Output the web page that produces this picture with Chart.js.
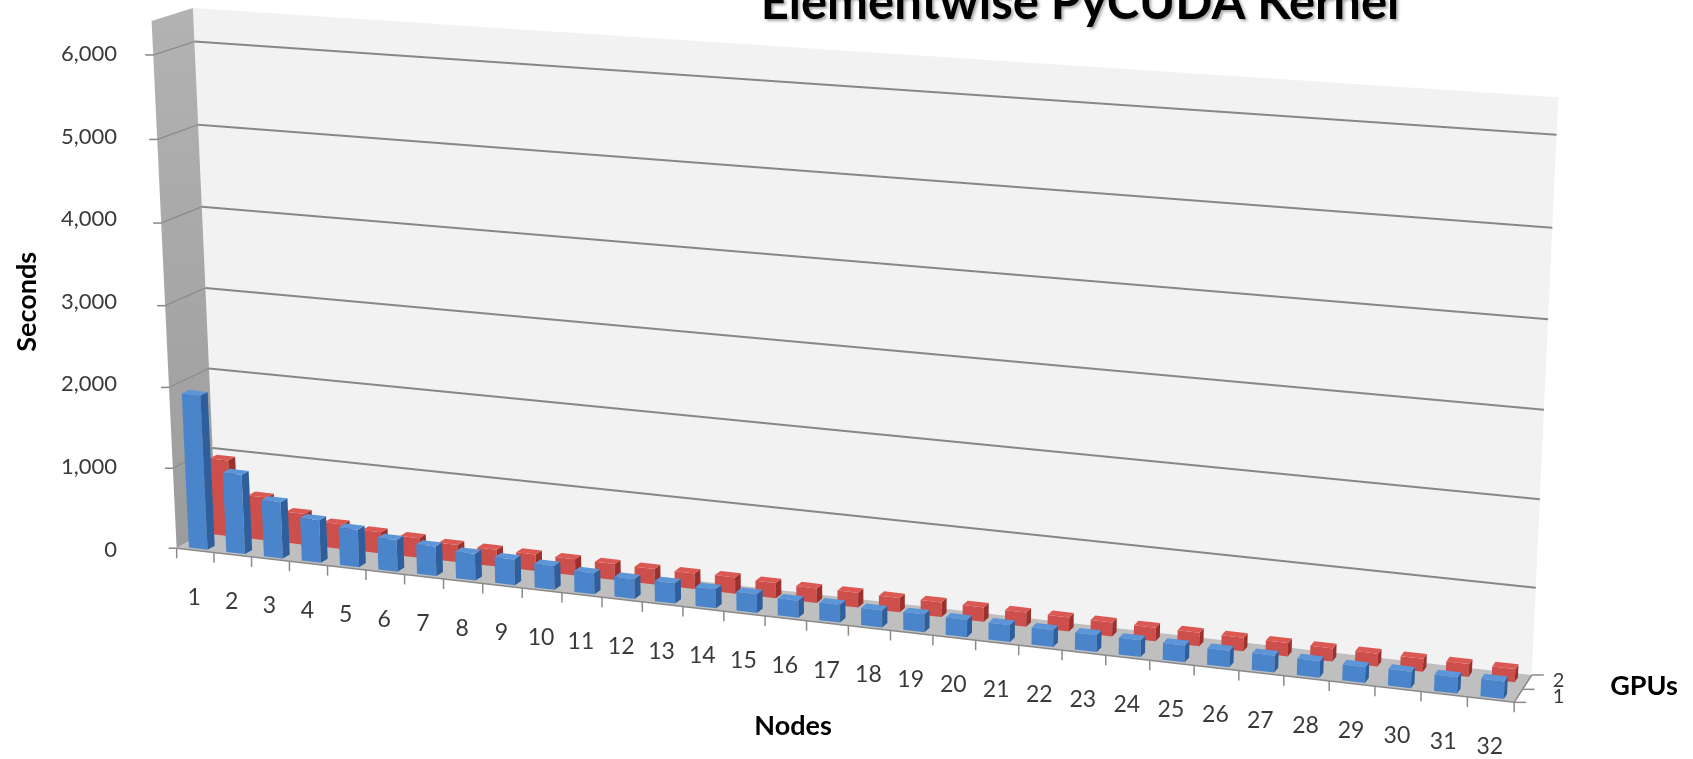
<!DOCTYPE html>
<html>
<head>
<meta charset="utf-8">
<title>Elementwise PyCUDA Kernel</title>
<script src="https://cdn.jsdelivr.net/npm/chart.js@4.4.1/dist/chart.umd.min.js"></script>
<style>
  html, body { margin: 0; padding: 0; background: #fff; }
  #wrap { width: 1693px; height: 759px; }
</style>
</head>
<body>
<div id="wrap"><canvas id="chart" width="1693" height="759"></canvas></div>
<script>
//values
var nodeCounts = ['1', '2', '3', '4', '5', '6', '7', '8', '9', '10', '11', '12', '13', '14', '15', '16',
  '17', '18', '19', '20', '21', '22', '23', '24', '25', '26', '27', '28', '29', '30', '31', '32']
var gpuCounts = ['1', '2']
var secondsOneGpu = [1920, 990, 700, 530, 465, 390, 365, 330, 315, 290, 255, 240, 245, 228, 226, 205,
  212, 202, 210, 202, 200, 200, 198, 196, 195, 192, 194, 190, 180, 188, 186, 198]
var secondsTwoGpus = [960, 545, 390, 310, 265, 245, 215, 210, 205, 200, 196, 190, 190, 198, 185, 175,
  178, 172, 175, 172, 168, 168, 165, 162, 160, 158, 155, 152, 150, 150, 148, 150]
var secondsTicks = [0, 1000, 2000, 3000, 4000, 5000, 6000]

//camera: where the corners of the excel box land on screen
//[node position, seconds, depth] -> [x, y]
var anchors = [
  [-0.5, 0, 0, 177, 548], [8.5, 0, 0, 522, 588], [27.5, 0, 0, 1330, 682], [31.5, 0, 0, 1513, 703],
  [-0.5, 0, 2, 218, 528], [31.5, 0, 2, 1532, 673],
  [-0.5, 6400, 2, 193, 10], [31.5, 6400, 2, 1558, 96], [-0.5, 6400, 0, 152, 22],
  [-0.5, 6000, 2, 195, 41], [31.5, 6000, 2, 1557, 136], [-0.5, 6000, 0, 153, 53],
  [-0.5, 2000, 2, 206, 367], [31.5, 2000, 2, 1540, 500], [-0.5, 2000, 0, 169, 387]
]
var BACK = 2 //depth of back wall
var TOP = 6400 //top of the walls
var rowDepth = [0.33, 1.55] //depth of each series row
var barDepth = 0.36

function solveCamera(pts) {
  var n = 11
  var M = []
  for (var i = 0; i < n; i++) M.push(new Array(n + 1).fill(0))
  function addRow(row, rhs) {
    for (var i = 0; i < n; i++) {
      for (var j = 0; j < n; j++) M[i][j] += row[i] * row[j]
      M[i][n] += row[i] * rhs
    }
  }
  pts.forEach(function(p) {
    var X = (p[0] + 0.5) / 32, Y = p[1] / 6400, Z = p[2] / 2
    var sx = p[3] / 1000, sy = p[4] / 1000
    addRow([X, Y, Z, 1, 0, 0, 0, 0, -sx * X, -sx * Y, -sx * Z], sx)
    addRow([0, 0, 0, 0, X, Y, Z, 1, -sy * X, -sy * Y, -sy * Z], sy)
  })
  for (var c = 0; c < n; c++) {
    var piv = c
    for (var r = c + 1; r < n; r++) if (Math.abs(M[r][c]) > Math.abs(M[piv][c])) piv = r
    var tmp = M[c]; M[c] = M[piv]; M[piv] = tmp
    for (var r2 = 0; r2 < n; r2++) {
      if (r2 === c) continue
      var f = M[r2][c] / M[c][c]
      for (var k = c; k <= n; k++) M[r2][k] -= f * M[c][k]
    }
  }
  var P = M.map(function(row, i) { return row[n] / row[i] })
  return function(u, v, w) {
    var X = (u + 0.5) / 32, Y = v / 6400, Z = w / 2
    var d = P[8] * X + P[9] * Y + P[10] * Z + 1
    return {
      x: 1000 * (P[0] * X + P[1] * Y + P[2] * Z + P[3]) / d,
      y: 1000 * (P[4] * X + P[5] * Y + P[6] * Z + P[7]) / d
    }
  }
}
var proj = solveCamera(anchors)

function poly(ctx, pts, color) {
  ctx.beginPath()
  ctx.moveTo(pts[0].x, pts[0].y)
  for (var i = 1; i < pts.length; i++) ctx.lineTo(pts[i].x, pts[i].y)
  ctx.closePath()
  ctx.fillStyle = color
  ctx.fill()
}
function seg(ctx, a, b, color, width) {
  ctx.beginPath()
  ctx.moveTo(a.x, a.y)
  ctx.lineTo(b.x, b.y)
  ctx.strokeStyle = color
  ctx.lineWidth = width
  ctx.stroke()
}
//native pixel -> node position
function toU(xs, px) {
  var x0 = xs.getPixelForValue(0)
  return (px - x0) / (xs.getPixelForValue(1) - x0)
}

function drawColumns(chart, meta) {
  var ctx = chart.ctx, xs = chart.scales.x, ys = chart.scales.y
  var ds = chart.data.datasets[meta.index]
  var wf = rowDepth[meta.index] - barDepth / 2, wb = rowDepth[meta.index] + barDepth / 2
  meta.data.forEach(function(bar) {
    var p = bar.getProps(['x', 'y', 'base', 'width'], true)
    var xl = p.x - p.width / 2, xr = p.x + p.width / 2
    var u0 = toU(xs, xl), u1 = toU(xs, xr)
    var v0 = ys.getValueForPixel(p.base), v1 = ys.getValueForPixel(p.y)
    var A = proj(u0, v0, wf), B = proj(u1, v0, wf), C = proj(u0, v1, wf)
    var h = p.y - p.base
    var a = (B.x - A.x) / p.width, b = (B.y - A.y) / p.width
    var c = (C.x - A.x) / h, d = (C.y - A.y) / h
    //front face: the bar itself, drawn by chart.js through a local perspective transform
    ctx.save()
    var m = ctx.getTransform()
    ctx.setTransform(m.multiply(new DOMMatrix([a, b, c, d, A.x - a * xl - c * p.base, A.y - b * xl - d * p.base])))
    bar.draw(ctx, chart.chartArea)
    ctx.restore()
    //side and top faces
    var D = { x: B.x + C.x - A.x, y: B.y + C.y - A.y }
    function back(pt, u, v) {
      var q = proj(u, v, wb), r = proj(u, v, wf)
      return { x: pt.x + q.x - r.x, y: pt.y + q.y - r.y }
    }
    var BB = back(B, u1, v0), BD = back(D, u1, v1), BC = back(C, u0, v1)
    poly(ctx, [B, D, BD, BB], ds.sideColor)
    poly(ctx, [C, D, BD, BC], ds.topColor)
  })
}

var room = {
  id: 'room',
  beforeDatasetsDraw: function(chart) {
    var ctx = chart.ctx, xs = chart.scales.x, ys = chart.scales.y
    var L = -0.5, R = xs.getLabels().length - 0.5
    ctx.save()
    poly(ctx, [proj(L, 0, BACK), proj(R, 0, BACK), proj(R, TOP, BACK), proj(L, TOP, BACK)], '#f2f2f2')
    var sideTop = proj(L, TOP, 0), sideBottom = proj(L, 0, 0)
    var sideFill = ctx.createLinearGradient(0, sideTop.y, 0, sideBottom.y)
    sideFill.addColorStop(0, '#b2b2b2')
    sideFill.addColorStop(1, '#9c9c9c')
    poly(ctx, [proj(L, 0, 0), proj(L, 0, BACK), proj(L, TOP, BACK), proj(L, TOP, 0)], sideFill)
    poly(ctx, [proj(L, 0, 0), proj(R, 0, 0), proj(R, 0, BACK), proj(L, 0, BACK)], '#bfbfbf')
    //gridlines and y tick marks
    ys.ticks.forEach(function(t) {
      var front = proj(L, t.value, 0)
      if (t.value > 0) {
        seg(ctx, proj(L, t.value, BACK), proj(R, t.value, BACK), '#878787', 2)
        seg(ctx, front, proj(L, t.value, BACK), '#8f8f8f', 1.5)
      }
      seg(ctx, front, { x: front.x - 8, y: front.y }, '#878787', 1.5)
    })
    //front edge of the floor with category tick marks
    seg(ctx, proj(L, 0, 0), proj(R, 0, 0), '#8a8a8a', 1.5)
    for (var u = L; u <= R + 0.01; u += 1) {
      var q = proj(u, 0, 0)
      seg(ctx, q, { x: q.x, y: q.y + 10 }, '#8a8a8a', 1.5)
    }
    //depth axis
    seg(ctx, proj(R, 0, 0), proj(R, 0, BACK), '#8a8a8a', 1.5);
    [0, (rowDepth[0] + rowDepth[1]) / 2, BACK].forEach(function(w) {
      var q = proj(R, 0, w)
      seg(ctx, q, { x: q.x + 12, y: q.y }, '#8a8a8a', 1.5)
    })
    ctx.restore()
  },
  beforeDatasetDraw: function(chart, args) {
    drawColumns(chart, args.meta)
    return false
  },
  afterDraw: function(chart) {
    var ctx = chart.ctx, xs = chart.scales.x
    var R = xs.getLabels().length - 0.5
    ctx.save()
    ctx.fillStyle = '#3a3a3a'
    ctx.font = '23px Lato'
    ctx.textAlign = 'center'
    ctx.textBaseline = 'middle'
    xs.getLabels().forEach(function(lab, i) {
      var q = proj(i, 0, 0)
      ctx.fillText(lab, q.x - 1, q.y + 47)
    })
    //depth labels
    var edge = proj(R, 0, BACK).x + 21
    ctx.textAlign = 'left'
    ctx.font = '20px Lato'
    chart.data.datasets.forEach(function(ds, i) {
      ctx.fillText(ds.label, edge, proj(R, 0, rowDepth[i]).y - 1)
    })
    ctx.fillStyle = '#000'
    ctx.font = 'bold 27px Lato'
    ctx.textAlign = 'center'
    ctx.fillText('GPUs', 1644, 686)
    //chart title, cut by the top edge like the picture
    var title = 'Elementwise PyCUDA Kernel'
    ctx.font = 'bold 48px Lato'
    var size = 48 * 639 / ctx.measureText(title).width
    ctx.font = 'bold ' + size.toFixed(1) + 'px Lato'
    ctx.textBaseline = 'alphabetic'
    ctx.shadowColor = 'rgba(0,0,0,0.35)'
    ctx.shadowBlur = 3
    ctx.shadowOffsetX = 2
    ctx.shadowOffsetY = 2
    ctx.fillText(title, 1080, 19)
    ctx.restore()
  }
}

Chart.defaults.font.family = 'Lato, "Open Sans", sans-serif'

var chart = new Chart(document.getElementById('chart'), {
  type: 'bar',
  data: {
    labels: nodeCounts,
    datasets: [
      { label: gpuCounts[0], data: secondsOneGpu, backgroundColor: '#4a85cb', sideColor: '#2e5e9b', topColor: '#5c95d8' },
      { label: gpuCounts[1], data: secondsTwoGpus, backgroundColor: '#cc4f4b', sideColor: '#9b302d', topColor: '#dc5853' }
    ]
  },
  options: {
    responsive: false,
    animation: false,
    events: [],
    layout: { padding: { left: 4, top: 54, right: 227, bottom: 0 } },
    datasets: { bar: { grouped: false, categoryPercentage: 1, barPercentage: 0.5, borderWidth: 0 } },
    plugins: { legend: { display: false }, tooltip: { enabled: false } },
    scales: {
      x: {
        grid: { display: false, drawTicks: false },
        border: { display: false },
        ticks: { display: false },
        title: { display: true, text: 'Nodes', color: '#000', font: { size: 27, weight: 'bold' }, padding: { top: 160, bottom: 17 } }
      },
      y: {
        min: 0,
        max: 6000,
        afterBuildTicks: function(scale) {
          scale.ticks = secondsTicks.map(function(v) { return { value: v } })
        },
        afterFit: function(scale) { scale.width = 116 },
        grid: { display: false, drawTicks: false },
        border: { display: false },
        ticks: {
          padding: 3,
          color: '#3a3a3a',
          font: { size: 22 },
          callback: function(v) { return v.toLocaleString('en-US') }
        },
        title: { display: true, text: 'Seconds', color: '#000', font: { size: 27, weight: 'bold' }, padding: { top: 7, bottom: 0 } }
      }
    }
  },
  plugins: [room]
})
</script>
</body>
</html>
